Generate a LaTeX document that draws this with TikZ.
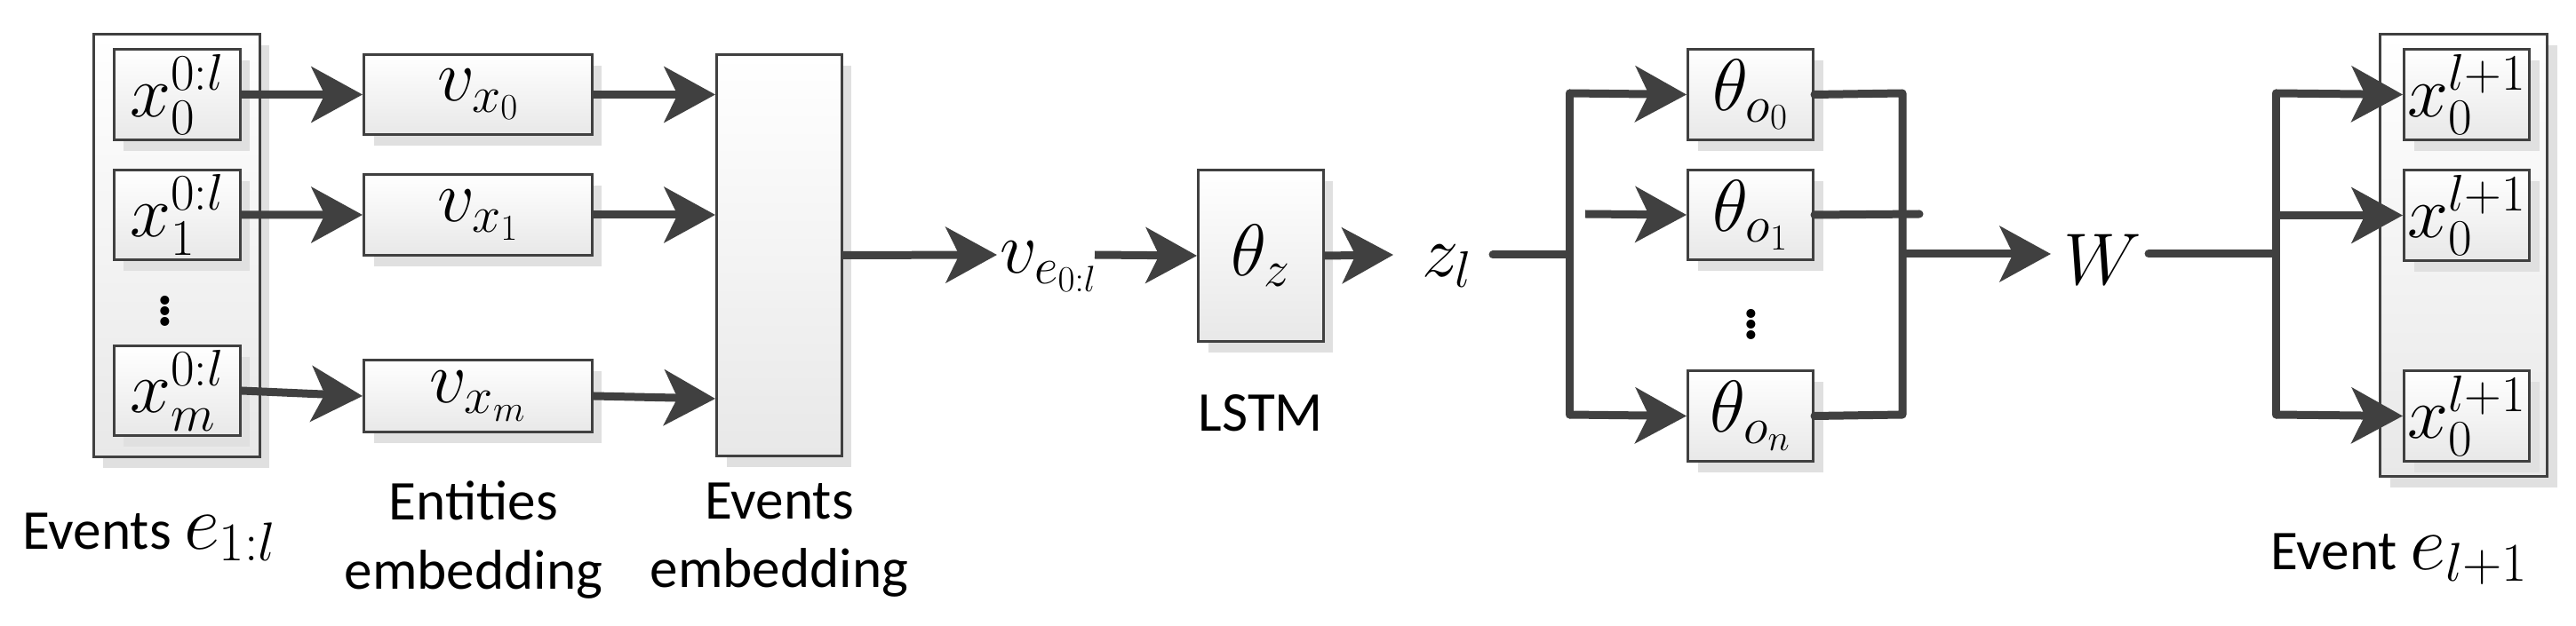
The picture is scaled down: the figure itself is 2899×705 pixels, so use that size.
\RequirePackage{fix-cm}
\documentclass[tikz,border=0pt]{standalone}
\usepackage{fontspec}
\setsansfont{Carlito}
\usetikzlibrary{arrows.meta,shadows}
\definecolor{dk}{HTML}{404040}
\begin{document}
\begin{tikzpicture}[x=0.02cm,y=-0.02cm,
  box/.style={draw=dk, line width=0.06cm, top color=white, bottom color=black!9, anchor=north west, inner sep=0pt,
    drop shadow={shadow xshift=0.22cm, shadow yshift=-0.26cm, fill=black!12, opacity=1}},
  bigm/.style={font=\fontsize{47}{52}\selectfont},
  lab/.style={font=\sffamily\fontsize{36}{44}\selectfont, align=center},
  arr/.style={draw=dk, line width=0.18cm, -{Stealth[length=1.15cm,width=1.25cm,inset=0.3cm]}},
  ln/.style={draw=dk, line width=0.18cm, line cap=round, line join=round}]
\useasboundingbox (0,0) rectangle (2899,705);
% events input
\node[box, minimum width=3.74cm, minimum height=9.52cm] (EV) at (104,37) {};
\node[box, minimum width=2.84cm, minimum height=2.04cm, bigm] (ex0) at (127,54) {$x_0^{0:l}$};
\node[box, minimum width=2.84cm, minimum height=2.02cm, bigm] (ex1) at (127,190) {$x_1^{0:l}$};
\node[box, minimum width=2.84cm, minimum height=2.02cm, bigm] (exm) at (127,388) {$x_m^{0:l}$};
\node[font=\fontsize{70}{70}\selectfont] (dA) at (186,345) {$\vdots$};
% entity embeddings
\node[box, minimum width=5.14cm, minimum height=1.8cm, bigm] (v0) at (408,60) {$v_{x_0}$};
\node[box, minimum width=5.14cm, minimum height=1.82cm, bigm] (v1) at (408,195) {$v_{x_1}$};
\node[box, minimum width=5.14cm, minimum height=1.62cm, bigm] (vm) at (408,404) {$v_{x_m}$};
% events embedding
\node[box, minimum width=2.82cm, minimum height=9.04cm] (EE) at (805,60) {};
\node[bigm, anchor=west, inner sep=0pt] (ve) at (1125,300) {$v_{e_{0:l}}$};
\node[box, minimum width=2.82cm, minimum height=3.86cm, bigm] (LS) at (1347,190) {$\theta_z$};
\node[bigm, anchor=west, inner sep=0pt] (zl) at (1600,300) {$z_l$};
% output heads
\node[box, minimum width=2.82cm, minimum height=2.04cm, bigm] (th0) at (1898,54) {$\theta_{o_0}$};
\node[box, minimum width=2.82cm, minimum height=2.02cm, bigm] (th1) at (1898,190) {$\theta_{o_1}$};
\node[box, minimum width=2.82cm, minimum height=2.04cm, bigm] (thn) at (1898,416) {$\theta_{o_n}$};
\node[font=\fontsize{70}{70}\selectfont] (dB) at (1971,360) {$\vdots$};
\node[bigm, anchor=west, inner sep=0pt] (W) at (2322,292) {$W$};
% output event
\node[box, minimum width=3.76cm, minimum height=9.96cm] (EO) at (2677,37) {};
\node[box, minimum width=2.82cm, minimum height=2.04cm, bigm] (y0) at (2704,54) {$x_0^{l+1}$};
\node[box, minimum width=2.82cm, minimum height=2.04cm, bigm] (y1) at (2704,190) {$x_0^{l+1}$};
\node[box, minimum width=2.82cm, minimum height=2.04cm, bigm] (y2) at (2704,416) {$x_0^{l+1}$};
% coordinates
\coordinate (b1t) at (1766,105);
\coordinate (b1b) at (1766,467);
\coordinate (b1m) at (1766,287);
\coordinate (b1s) at (1784,241);
\coordinate (b2t) at (2141,105);
\coordinate (b2b) at (2141,467);
\coordinate (b2m) at (2141,286);
\coordinate (b2x) at (2160,241);
\coordinate (b3t) at (2561,105);
\coordinate (b3b) at (2561,467);
\coordinate (b3m) at (2561,286);
\coordinate (vs) at (1232,287);
\coordinate (ze) at (1680,287);
\coordinate (eeo) at (1122,287);
\coordinate (lsi) at (1568,287);
\coordinate (wi) at (2308,286);
\coordinate (wo) at (2418,286);
% connectors
\draw[arr] (ex0.east) -- (v0.west);
\draw[arr] (ex1.east) -- (v1.west);
\draw[arr] (exm.east) -- (vm.west);
\draw[arr] (v0.east) -- (v0.east -| EE.west);
\draw[arr] (v1.east) -- (v1.east -| EE.west);
\draw[arr] (vm.east) -- ([yshift=-0.06cm]vm.east -| EE.west);
\draw[arr] (EE.east) -- (eeo);
\draw[arr] (vs) -- (LS.west);
\draw[arr] (LS.east) -- (lsi);
\draw[ln] (ze) -- (b1m);
\draw[ln] (b1t) -- (b1b);
\draw[arr] (b1t) -- (th0.west);
\draw[arr] (b1s) -- (th1.west);
\draw[arr] (b1b) -- (thn.west);
\draw[ln] (th0.east) -- (b2t) -- (b2b) -- (thn.east);
\draw[ln] (th1.east) -- (b2x);
\draw[arr] (b2m) -- (wi);
\draw[ln] (wo) -- (b3m);
\draw[ln] (b3t) -- (b3b);
\draw[arr] (b3t) -- (y0.west);
\draw[arr] (b3m |- y1.west) -- (y1.west);
\draw[arr] (b3b) -- (y2.west);
% labels
\node[lab] (l1) at (168,605) {Events {\fontsize{50}{60}\selectfont$e_{1:l}$}};
\node[lab] (l2) at (533,608) {Entities\\embedding};
\node[lab] (l3) at (877,608) {Events\\embedding};
\node[lab] (l4) at (1419,465) {LSTM};
\node[lab] (l5) at (2700,630) {Event {\fontsize{50}{60}\selectfont$e_{l+1}$}};
\end{tikzpicture}
\end{document}
